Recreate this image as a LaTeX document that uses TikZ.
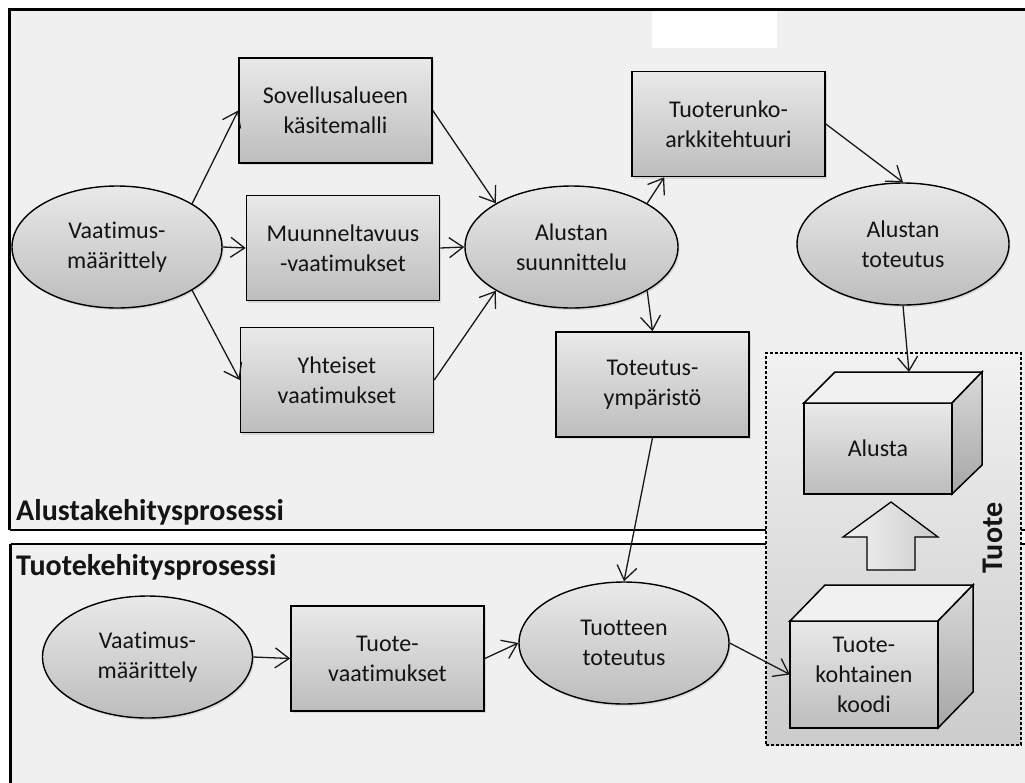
\documentclass[tikz,border=0pt]{standalone}
\usepackage{fontspec}
\setmainfont{Carlito}[Ligatures=NoCommon]
\usetikzlibrary{arrows.meta,shapes.geometric,shadows,calc}

\definecolor{panel}{HTML}{F0F0F0}
\definecolor{shadetop}{HTML}{E9E9E9}
\definecolor{shadebot}{HTML}{BDBDBD}
\definecolor{sidetop}{HTML}{D9D9D9}
\definecolor{sidebot}{HTML}{A6A6A6}

\begin{document}
\begin{tikzpicture}[x=1pt,y=-1pt,
  every node/.style={font=\fontsize{24}{30}\selectfont, text=black!92},
  softshadow/.style={drop shadow={opacity=0.22, shadow xshift=1.5pt, shadow yshift=-2pt}},
  proc/.style={ellipse, draw=black, line width=1.4pt, top color=shadetop, bottom color=shadebot,
    minimum width=210pt, minimum height=122pt, inner sep=0pt, align=center, softshadow},
  doc/.style={rectangle, draw=black, line width=1.6pt, top color=shadetop, bottom color=shadebot,
    minimum width=193pt, minimum height=105pt, inner sep=0pt, align=center, softshadow},
  cubefront/.style={rectangle, draw=black, line width=1.5pt, top color=shadetop, bottom color=shadebot,
    inner sep=0pt, outer sep=0pt, align=center},
  cubetop/.style={draw=black, line width=1.5pt, fill=panel!95!white},
  cubeside/.style={draw=black, line width=1.5pt, top color=sidetop, bottom color=sidebot},
  flow/.style={draw=black!90, line width=1.3pt, -{Straight Barb[length=14pt,width=20pt,line width=1.3pt]}},
  lanelabel/.style={font=\fontsize{30}{34}\bfseries, anchor=base west, inner sep=0pt},
]
\useasboundingbox (0,0) rectangle (1025,782);
\clip (0,0) rectangle (1025,782);

% lane backgrounds
\fill[white] (0,0) rectangle (1025,782);
\fill[panel] (9.5,9.5) rectangle (1030,530);
\fill[panel] (10.5,544) rectangle (1030,790);
\fill[white] (652,10) rectangle (777,48);

% lane frames
\draw[line width=3pt] (1030,9.5) -- (9.5,9.5) -- (9.5,530);
\draw[line width=1.3pt] (9.5,530) -- (1030,530);
\draw[line width=1.3pt] (10.5,544) -- (1030,544);
\draw[line width=3pt] (10.5,544) -- (10.5,790);

\node[lanelabel] (lab1) at (16,520) {Alustakehitysprosessi};
\node[lanelabel] (lab2) at (16,575) {Tuotekehitysprosessi};

% product container
\node[draw=black, line width=1.2pt, dash pattern=on 3pt off 2pt,
  top color=panel!90!white, bottom color=black!20,
  minimum width=255pt, minimum height=392pt, inner sep=0pt] (tuote) at (893.5,549) {};
\node[font=\fontsize{30}{34}\bfseries\selectfont, rotate=90, inner sep=0pt] (tuotelab) at (993,538) {Tuote};

% platform development
\node[proc] (vm) at (117,247) {Vaatimus-\\määrittely};
\node[doc] (sov) at (335.5,110.5) {Sovellusalueen\\käsitemalli};
\node[doc] (mu) at (343,248) {Muunneltavuus\\-vaatimukset};
\node[doc] (yh) at (337,380) {Yhteiset\\vaatimukset};
\node[proc, minimum width=213pt] (as) at (571.5,247) {Alustan\\suunnittelu};
\node[doc] (tr) at (728.5,124) {Tuoterunko-\\arkkitehtuuri};
\node[proc, minimum width=212pt] (at) at (903,244) {Alustan\\toteutus};
\node[doc] (te) at (652.5,384.5) {Toteutus-\\ympäristö};

% product development
\node[proc] (vm2) at (147.5,657) {Vaatimus-\\määrittely};
\node[doc] (tv) at (387.5,658.5) {Tuote-\\vaatimukset};
\node[proc] (tt) at (624,643) {Tuotteen\\toteutus};

% platform cube
\node[cubefront, minimum width=148pt, minimum height=91pt] (alusta) at (878,448.5) {Alusta};
\draw[cubetop] (alusta.north west) -- ++(31,-31) -- ++(147,0) -- (alusta.north east) -- cycle;
\draw[cubeside] (alusta.north east) -- ++(30,-31) -- ++(0,93) -- (alusta.south east) -- cycle;
\coordinate (alustatop) at ($(alusta.north)+(31,-31)$);

% product-specific code cube
\node[cubefront, minimum width=148pt, minimum height=107pt] (koodi) at (864,674.5) {Tuote-\\kohtainen\\koodi};
\draw[cubetop] (koodi.north west) -- ++(35,-36) -- ++(148,0) -- (koodi.north east) -- cycle;
\draw[cubeside] (koodi.north east) -- ++(35,-36) -- ++(0,107) -- (koodi.south east) -- cycle;

% block arrow from code to platform
\draw[line width=1.3pt, left color=panel!80!white, right color=black!20]
  (891,502) -- (938,537) -- (915,537) -- (915,570) -- (867,570) -- (867,537) -- (843,537) -- cycle;

% connectors
\draw[flow] (vm.30) -- (sov.west);
\draw[flow] (vm.east) -- (mu.west);
\draw[flow] (vm.-30) -- (yh.west);
\draw[flow] (sov.east) -- (as.150);
\draw[flow] (mu.east) -- (as.west);
\draw[flow] (yh.east) -- (as.210);
\draw[flow] (as.30) -- ($(tr.south west)+(33,0)$);
\draw[flow] (as.-30) -- (te.north);
\draw[flow] (tr.east) -- (at.north);
\draw[flow] (at.south) -- (alustatop);
\draw[flow] (te.south) -- (tt.north);
\draw[flow] (vm2.east) -- (tv.west);
\draw[flow] (tv.east) -- (tt.west);
\draw[flow] (tt.east) -- (koodi.west);
\end{tikzpicture}
\end{document}
